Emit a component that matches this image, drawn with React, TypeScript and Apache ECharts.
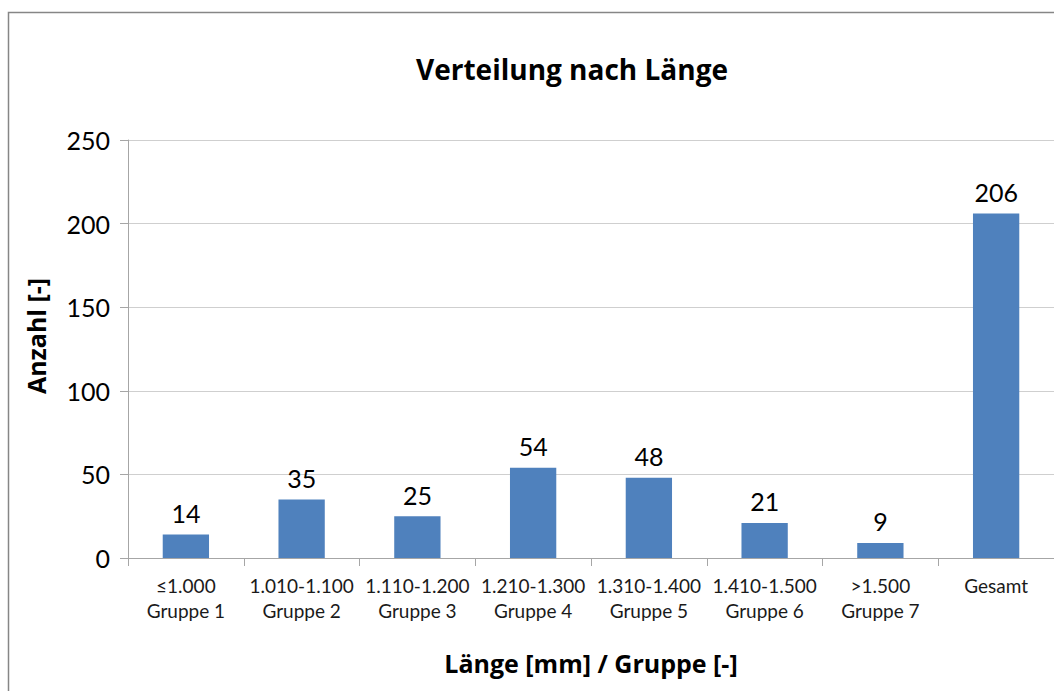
import React, { useEffect, useRef } from "react";
import * as echarts from "echarts";

const categories = [
  "≤1.000\nGruppe 1",
  "1.010-1.100\nGruppe 2",
  "1.110-1.200\nGruppe 3",
  "1.210-1.300\nGruppe 4",
  "1.310-1.400\nGruppe 5",
  "1.410-1.500\nGruppe 6",
  ">1.500\nGruppe 7",
  "Gesamt",
];
const counts = [14, 35, 25, 54, 48, 21, 9, 206];
const yMin = 0;
const yMax = 250;
const yStep = 50;

const FONT = "Lato, 'Open Sans', sans-serif";
const BOLD = "'Open Sans', Lato, sans-serif";

export default function App() {
  const ref = useRef<HTMLDivElement>(null);
  useEffect(() => {
    if (!ref.current) return;
    const chart = echarts.init(ref.current, null, { renderer: "svg" });
    chart.setOption({
      animation: false,
      backgroundColor: "#ffffff",
      textStyle: { fontFamily: FONT },
      title: {
        text: "Verteilung nach Länge",
        left: 567,
        top: 50,
        textAlign: "center",
        textStyle: { fontFamily: BOLD, fontSize: 28, fontWeight: "bold", color: "#000" },
      },
      graphic: [
        {
          type: "rect",
          shape: { x: 8.5, y: 12.5, width: 1200, height: 800 },
          style: { fill: "none", stroke: "#868686", lineWidth: 1.5 },
          silent: true,
        },
        {
          type: "text",
          x: 36,
          y: 336,
          rotation: Math.PI / 2,
          style: {
            text: "Anzahl [-]",
            fontFamily: BOLD,
            fontSize: 25,
            fontWeight: "bold",
            fill: "#000",
            align: "center",
            verticalAlign: "middle",
          },
        },
      ],
      grid: { left: 128, right: 0, top: 140, bottom: 133, containLabel: false },
      xAxis: {
        type: "category",
        data: categories,
        name: "Länge [mm] / Gruppe [-]",
        nameLocation: "middle",
        nameGap: 92,
        nameTextStyle: { fontFamily: BOLD, fontSize: 25, fontWeight: "bold", color: "#000" },
        axisLine: { show: true, lineStyle: { color: "#a6a6a6", width: 1 } },
        axisTick: { show: true, alignWithLabel: false, length: 8, lineStyle: { color: "#a6a6a6" } },
        axisLabel: {
          interval: 0,
          margin: 15,
          fontFamily: FONT,
          fontSize: 19,
          lineHeight: 25,
          color: "#1a1a1a",
        },
      },
      yAxis: {
        type: "value",
        min: yMin,
        max: yMax,
        interval: yStep,
        axisLine: { show: true, lineStyle: { color: "#a6a6a6", width: 1 } },
        axisTick: { show: true, length: 8, lineStyle: { color: "#a6a6a6" } },
        splitLine: { show: true, lineStyle: { color: "#cfcfcf", width: 1 } },
        axisLabel: { margin: 18, fontFamily: FONT, fontSize: 25, color: "#000" },
      },
      series: [
        {
          type: "bar",
          data: counts,
          barCategoryGap: "60%",
          itemStyle: { color: "#4F81BD" },
          label: {
            show: true,
            position: "top",
            distance: 9,
            fontFamily: FONT,
            fontSize: 25,
            color: "#000",
          },
        },
      ],
    });
    return () => chart.dispose();
  }, []);
  return (
    <div
      ref={ref}
      style={{ position: "fixed", left: 0, top: 0, width: 1054, height: 691, background: "#fff" }}
    />
  );
}
